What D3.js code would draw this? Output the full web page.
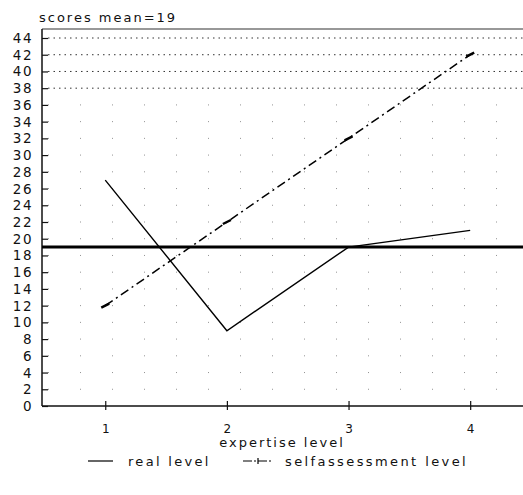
<!DOCTYPE html>
<html>
<head>
<meta charset="utf-8">
<script src="https://cdn.jsdelivr.net/npm/d3@7"></script>
<style>
  body { margin: 0; background: #fff; }
  svg { display: block; }
  text { font-family: "DejaVu Sans", sans-serif; fill: #111; }
</style>
</head>
<body>
<svg id="chart" width="523" height="495"></svg>
<script>
// ---- data ----
const levels = [1, 2, 3, 4];
const realLevel = [27, 9, 19, 21];
const selfLevel = [12, 22, 32, 42];
const scoreMean = 19;
const yTicks = d3.range(0, 46, 2);

const svg = d3.select("#chart");

const plot = { left: 42, top: 29, bottom: 406 };

const x = d3.scaleLinear().domain([0.48, 4.5]).range([plot.left, 531]);
const y = d3.scaleLinear().domain([0, 44]).range([plot.bottom, 38]);

// faint dotted grid (the top rows print much denser than the rest)
svg.append("g")
    .selectAll("line")
    .data(yTicks.filter(d => d > 0))
    .enter()
    .append("line")
    .attr("x1", plot.left + 6)
    .attr("x2", 523)
    .attr("y1", d => y(d))
    .attr("y2", d => y(d))
    .attr("stroke", "#111")
    .attr("stroke-width", 1)
    .attr("stroke-dasharray", d => d >= 38 ? "1.5,4" : "1,31")
    .attr("opacity", d => d >= 38 ? 0.85 : 0.45);

// title
svg.append("text")
    .attr("x", 39)
    .attr("y", 22)
    .style("font-size", "13px")
    .style("letter-spacing", "2px")
    .text("scores mean=" + scoreMean);

// top frame line
svg.append("line")
    .attr("x1", plot.left).attr("x2", 523)
    .attr("y1", plot.top).attr("y2", plot.top)
    .attr("stroke", "#333").attr("stroke-width", 1.2);

// y axis
const yAxis = svg.append("g")
    .attr("transform", "translate(" + plot.left + ",0)")
    .call(d3.axisRight(y).tickValues(yTicks).tickSize(6).tickFormat(""));
yAxis.select(".domain").remove();
yAxis.selectAll("line").attr("stroke", "#111").attr("stroke-width", 1.2);

svg.append("line")
    .attr("x1", plot.left).attr("x2", plot.left)
    .attr("y1", plot.top).attr("y2", plot.bottom)
    .attr("stroke", "#111").attr("stroke-width", 1.5);

svg.append("g")
    .selectAll("text")
    .data(yTicks)
    .enter()
    .append("text")
    .attr("x", 33)
    .attr("y", d => y(d) + 5)
    .attr("text-anchor", "end")
    .style("font-size", "13.5px")
    .style("letter-spacing", "1.5px")
    .text(d => d);

// x axis
svg.append("line")
    .attr("x1", plot.left).attr("x2", 523)
    .attr("y1", plot.bottom).attr("y2", plot.bottom)
    .attr("stroke", "#111").attr("stroke-width", 1.5);

const xAxis = svg.append("g")
    .attr("transform", "translate(0," + (plot.bottom + 4) + ")")
    .call(d3.axisBottom(x).tickValues(levels).tickSize(-9).tickPadding(14).tickFormat(d3.format("d")));
xAxis.select(".domain").remove();
xAxis.selectAll("line").attr("stroke", "#111").attr("stroke-width", 1.2);
xAxis.selectAll("text")
    .style("font-family", "DejaVu Sans, sans-serif")
    .style("font-size", "12px")
    .attr("fill", "#111");

svg.append("text")
    .attr("x", 282)
    .attr("y", 447)
    .attr("text-anchor", "middle")
    .style("font-size", "13px")
    .style("letter-spacing", "2px")
    .text("expertise level");

// mean line
svg.append("line")
    .attr("x1", plot.left).attr("x2", 523)
    .attr("y1", y(scoreMean)).attr("y2", y(scoreMean))
    .attr("stroke", "#000").attr("stroke-width", 3);

const line = d3.line()
    .x((d, i) => x(levels[i]))
    .y(d => y(d));

svg.append("path")
    .datum(realLevel)
    .attr("d", line)
    .attr("fill", "none")
    .attr("stroke", "#000")
    .attr("stroke-width", 1.4);

svg.append("path")
    .datum(selfLevel)
    .attr("d", line)
    .attr("fill", "none")
    .attr("stroke", "#000")
    .attr("stroke-width", 1.5)
    .attr("stroke-dasharray", "9,4,2,4");

svg.append("g")
    .selectAll("line")
    .data(selfLevel)
    .enter()
    .append("line")
    .attr("x1", (d, i) => x(levels[i]) - 4)
    .attr("x2", (d, i) => x(levels[i]) + 4)
    .attr("y1", d => y(d) + 2)
    .attr("y2", d => y(d) - 2)
    .attr("stroke", "#000")
    .attr("stroke-width", 2.5);

// legend
const legend = svg.append("g");
legend.append("line")
    .attr("x1", 88).attr("x2", 113).attr("y1", 461).attr("y2", 461)
    .attr("stroke", "#000").attr("stroke-width", 1.2);
legend.append("text")
    .attr("x", 128).attr("y", 466)
    .style("font-size", "13px")
    .style("letter-spacing", "2.3px")
    .text("real level");
legend.append("line")
    .attr("x1", 243).attr("x2", 273).attr("y1", 461).attr("y2", 461)
    .attr("stroke", "#000").attr("stroke-width", 1.2)
    .attr("stroke-dasharray", "9,2,2,2");
legend.append("line")
    .attr("x1", 258).attr("x2", 258).attr("y1", 458).attr("y2", 464)
    .attr("stroke", "#000").attr("stroke-width", 1.2);
legend.append("text")
    .attr("x", 285).attr("y", 466)
    .style("font-size", "13px")
    .style("letter-spacing", "2.4px")
    .text("selfassessment level");
</script>
</body>
</html>
